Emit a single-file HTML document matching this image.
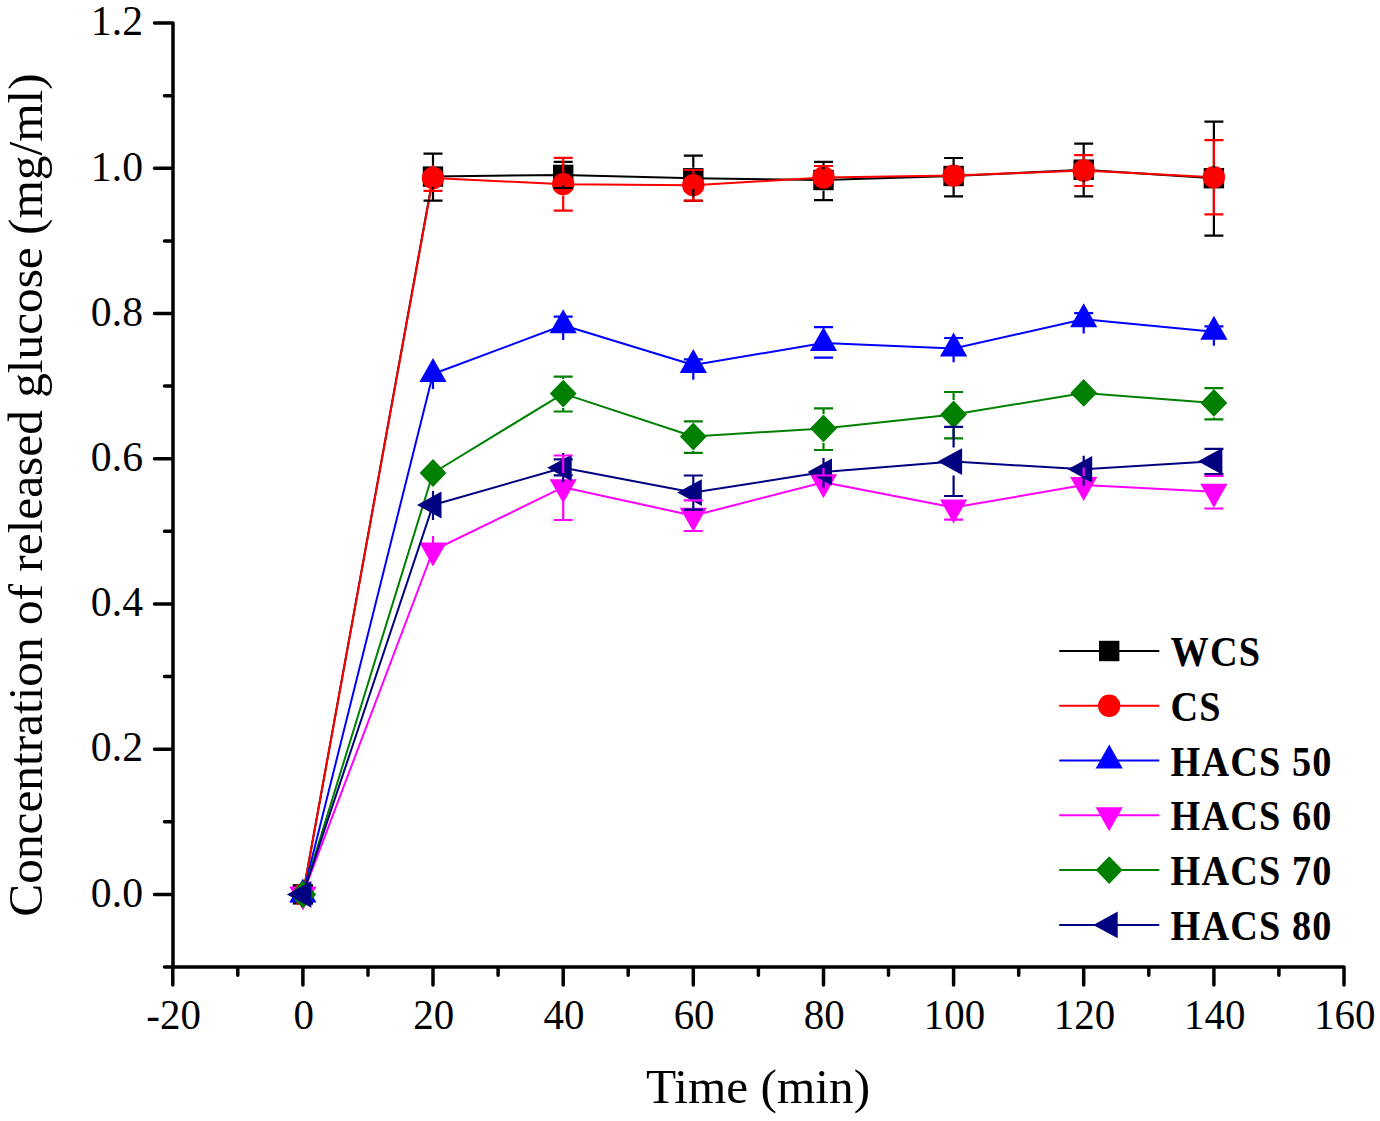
<!DOCTYPE html><html><head><meta charset="utf-8"><title>Glucose release</title><style>html,body{margin:0;padding:0;background:#fff;}svg{display:block;}text{font-family:"Liberation Serif",serif;}</style></head><body>
<svg width="1380" height="1121" viewBox="0 0 1380 1121">
<rect width="1380" height="1121" fill="#fff"/>
<path d="M173.0,23.1 L173.0,967.0 M164.5,967.0 L1344.0,967.0 M154.5,894.4 L173.0,894.4 M154.5,749.2 L173.0,749.2 M154.5,604.0 L173.0,604.0 M154.5,458.7 L173.0,458.7 M154.5,313.5 L173.0,313.5 M154.5,168.3 L173.0,168.3 M154.5,23.1 L173.0,23.1 M164.5,821.8 L173.0,821.8 M164.5,676.6 L173.0,676.6 M164.5,531.3 L173.0,531.3 M164.5,386.1 L173.0,386.1 M164.5,240.9 L173.0,240.9 M164.5,95.7 L173.0,95.7 M172.8,967.0 L172.8,985.0 M302.9,967.0 L302.9,985.0 M433.0,967.0 L433.0,985.0 M563.2,967.0 L563.2,985.0 M693.3,967.0 L693.3,985.0 M823.5,967.0 L823.5,985.0 M953.6,967.0 L953.6,985.0 M1083.7,967.0 L1083.7,985.0 M1213.9,967.0 L1213.9,985.0 M1344.0,967.0 L1344.0,985.0 M237.8,967.0 L237.8,975.3 M368.0,967.0 L368.0,975.3 M498.1,967.0 L498.1,975.3 M628.2,967.0 L628.2,975.3 M758.4,967.0 L758.4,975.3 M888.5,967.0 L888.5,975.3 M1018.7,967.0 L1018.7,975.3 M1148.8,967.0 L1148.8,975.3 M1278.9,967.0 L1278.9,975.3" stroke="#000" stroke-width="3.5" fill="none" stroke-linecap="round" stroke-linejoin="round"/>
<text transform="translate(143,906.6) scale(1.03,1.05)" font-size="40.5" text-anchor="end">0.0</text>
<text transform="translate(143,761.4) scale(1.03,1.05)" font-size="40.5" text-anchor="end">0.2</text>
<text transform="translate(143,616.2) scale(1.03,1.05)" font-size="40.5" text-anchor="end">0.4</text>
<text transform="translate(143,470.9) scale(1.03,1.05)" font-size="40.5" text-anchor="end">0.6</text>
<text transform="translate(143,325.7) scale(1.03,1.05)" font-size="40.5" text-anchor="end">0.8</text>
<text transform="translate(143,180.5) scale(1.03,1.05)" font-size="40.5" text-anchor="end">1.0</text>
<text transform="translate(143,35.3) scale(1.03,1.05)" font-size="40.5" text-anchor="end">1.2</text>
<text transform="translate(173.6,1028.8) scale(1.01,1.05)" font-size="40.5" text-anchor="middle">-20</text>
<text transform="translate(303.7,1028.8) scale(1.01,1.05)" font-size="40.5" text-anchor="middle">0</text>
<text transform="translate(433.8,1028.8) scale(1.01,1.05)" font-size="40.5" text-anchor="middle">20</text>
<text transform="translate(564.0,1028.8) scale(1.01,1.05)" font-size="40.5" text-anchor="middle">40</text>
<text transform="translate(694.1,1028.8) scale(1.01,1.05)" font-size="40.5" text-anchor="middle">60</text>
<text transform="translate(824.3,1028.8) scale(1.01,1.05)" font-size="40.5" text-anchor="middle">80</text>
<text transform="translate(954.4,1028.8) scale(1.01,1.05)" font-size="40.5" text-anchor="middle">100</text>
<text transform="translate(1084.5,1028.8) scale(1.01,1.05)" font-size="40.5" text-anchor="middle">120</text>
<text transform="translate(1214.7,1028.8) scale(1.01,1.05)" font-size="40.5" text-anchor="middle">140</text>
<text transform="translate(1344.8,1028.8) scale(1.01,1.05)" font-size="40.5" text-anchor="middle">160</text>
<text x="758" y="1102.7" font-size="49.3" text-anchor="middle">Time (min)</text>
<text transform="translate(42.3,495) rotate(-90)" font-size="49.3" text-anchor="middle">Concentration of released glucose (mg/ml)</text>
<polyline points="302.9,894.4 433.0,176.6 563.2,174.9 693.3,178.3 823.5,180.0 953.6,176.0 1083.7,169.7 1213.9,178.2" stroke="#000000" stroke-width="2.0" fill="none" stroke-linejoin="round"/>
<rect x="292.7" y="884.2" width="20.4" height="20.4" fill="#000000"/>
<rect x="422.8" y="166.4" width="20.4" height="20.4" fill="#000000"/>
<rect x="553.0" y="164.7" width="20.4" height="20.4" fill="#000000"/>
<rect x="683.1" y="168.1" width="20.4" height="20.4" fill="#000000"/>
<rect x="813.3" y="169.8" width="20.4" height="20.4" fill="#000000"/>
<rect x="943.4" y="165.8" width="20.4" height="20.4" fill="#000000"/>
<rect x="1073.5" y="159.5" width="20.4" height="20.4" fill="#000000"/>
<rect x="1203.7" y="168.0" width="20.4" height="20.4" fill="#000000"/>
<polyline points="302.9,894.4 433.0,178.0 563.2,184.2 693.3,185.2 823.5,177.5 953.6,175.6 1083.7,170.5 1213.9,177.2" stroke="#FF0000" stroke-width="2.0" fill="none" stroke-linejoin="round"/>
<circle cx="302.9" cy="894.4" r="11.2" fill="#FF0000"/>
<circle cx="433.0" cy="178.0" r="11.2" fill="#FF0000"/>
<circle cx="563.2" cy="184.2" r="11.2" fill="#FF0000"/>
<circle cx="693.3" cy="185.2" r="11.2" fill="#FF0000"/>
<circle cx="823.5" cy="177.5" r="11.2" fill="#FF0000"/>
<circle cx="953.6" cy="175.6" r="11.2" fill="#FF0000"/>
<circle cx="1083.7" cy="170.5" r="11.2" fill="#FF0000"/>
<circle cx="1213.9" cy="177.2" r="11.2" fill="#FF0000"/>
<polyline points="302.9,894.4 433.0,374.0 563.2,325.3 693.3,365.0 823.5,343.0 953.6,348.4 1083.7,319.3 1213.9,331.7" stroke="#0000FF" stroke-width="2.0" fill="none" stroke-linejoin="round"/>
<polygon points="302.9,878.4 316.5,902.4 289.3,902.4" fill="#0000FF"/>
<polygon points="433.0,358.0 446.6,382.0 419.4,382.0" fill="#0000FF"/>
<polygon points="563.2,309.3 576.8,333.3 549.6,333.3" fill="#0000FF"/>
<polygon points="693.3,349.0 706.9,373.0 679.7,373.0" fill="#0000FF"/>
<polygon points="823.5,327.0 837.1,351.0 809.9,351.0" fill="#0000FF"/>
<polygon points="953.6,332.4 967.2,356.4 940.0,356.4" fill="#0000FF"/>
<polygon points="1083.7,303.3 1097.3,327.3 1070.1,327.3" fill="#0000FF"/>
<polygon points="1213.9,315.7 1227.5,339.7 1200.3,339.7" fill="#0000FF"/>
<polyline points="302.9,894.4 433.0,550.5 563.2,487.2 693.3,515.7 823.5,482.3 953.6,507.6 1083.7,485.0 1213.9,491.8" stroke="#FF00FF" stroke-width="2.0" fill="none" stroke-linejoin="round"/>
<polygon points="302.9,910.4 316.5,886.4 289.3,886.4" fill="#FF00FF"/>
<polygon points="433.0,566.5 446.6,542.5 419.4,542.5" fill="#FF00FF"/>
<polygon points="563.2,503.2 576.8,479.2 549.6,479.2" fill="#FF00FF"/>
<polygon points="693.3,531.7 706.9,507.7 679.7,507.7" fill="#FF00FF"/>
<polygon points="823.5,498.3 837.1,474.3 809.9,474.3" fill="#FF00FF"/>
<polygon points="953.6,523.6 967.2,499.6 940.0,499.6" fill="#FF00FF"/>
<polygon points="1083.7,501.0 1097.3,477.0 1070.1,477.0" fill="#FF00FF"/>
<polygon points="1213.9,507.8 1227.5,483.8 1200.3,483.8" fill="#FF00FF"/>
<polyline points="302.9,894.4 433.0,473.0 563.2,393.6 693.3,436.5 823.5,428.4 953.6,414.5 1083.7,392.9 1213.9,402.9" stroke="#008000" stroke-width="2.0" fill="none" stroke-linejoin="round"/>
<polygon points="302.9,880.5 316.3,894.4 302.9,908.3 289.5,894.4" fill="#008000"/>
<polygon points="433.0,459.1 446.4,473.0 433.0,486.9 419.6,473.0" fill="#008000"/>
<polygon points="563.2,379.7 576.6,393.6 563.2,407.5 549.8,393.6" fill="#008000"/>
<polygon points="693.3,422.6 706.7,436.5 693.3,450.4 679.9,436.5" fill="#008000"/>
<polygon points="823.5,414.5 836.9,428.4 823.5,442.3 810.1,428.4" fill="#008000"/>
<polygon points="953.6,400.6 967.0,414.5 953.6,428.4 940.2,414.5" fill="#008000"/>
<polygon points="1083.7,379.0 1097.1,392.9 1083.7,406.8 1070.3,392.9" fill="#008000"/>
<polygon points="1213.9,389.0 1227.3,402.9 1213.9,416.8 1200.5,402.9" fill="#008000"/>
<polyline points="302.9,894.4 433.0,505.0 563.2,467.8 693.3,492.6 823.5,472.0 953.6,461.6 1083.7,469.3 1213.9,461.3" stroke="#000080" stroke-width="2.0" fill="none" stroke-linejoin="round"/>
<polygon points="286.9,894.4 311.4,881.0 311.4,907.8" fill="#000080"/>
<polygon points="417.0,505.0 441.5,491.6 441.5,518.4" fill="#000080"/>
<polygon points="547.2,467.8 571.7,454.4 571.7,481.2" fill="#000080"/>
<polygon points="677.3,492.6 701.8,479.2 701.8,506.0" fill="#000080"/>
<polygon points="807.5,472.0 832.0,458.6 832.0,485.4" fill="#000080"/>
<polygon points="937.6,461.6 962.1,448.2 962.1,475.0" fill="#000080"/>
<polygon points="1067.7,469.3 1092.2,455.9 1092.2,482.7" fill="#000080"/>
<polygon points="1197.9,461.3 1222.4,447.9 1222.4,474.7" fill="#000080"/>
<path d="M433.0,153.7 L433.0,166.1 M433.0,187.1 L433.0,200.7 M423.5,153.7 L442.5,153.7 M423.5,200.7 L442.5,200.7 M563.2,161.8 L563.2,164.4 M563.2,185.4 L563.2,188.0 M553.7,161.8 L572.7,161.8 M553.7,188.0 L572.7,188.0 M693.3,155.7 L693.3,167.8 M693.3,188.8 L693.3,200.9 M683.8,155.7 L702.8,155.7 M683.8,200.9 L702.8,200.9 M823.5,161.9 L823.5,169.5 M823.5,190.5 L823.5,200.2 M814.0,161.9 L833.0,161.9 M814.0,200.2 L833.0,200.2 M953.6,158.0 L953.6,165.5 M953.6,186.5 L953.6,196.3 M944.1,158.0 L963.1,158.0 M944.1,196.3 L963.1,196.3 M1083.7,143.6 L1083.7,159.2 M1083.7,180.2 L1083.7,196.3 M1074.2,143.6 L1093.2,143.6 M1074.2,196.3 L1093.2,196.3 M1213.9,121.6 L1213.9,167.7 M1213.9,188.7 L1213.9,235.7 M1204.4,121.6 L1223.4,121.6 M1204.4,235.7 L1223.4,235.7" stroke="#000000" stroke-width="2.2" fill="none"/>
<path d="M433.0,165.2 L433.0,166.5 M433.0,189.5 L433.0,190.8 M423.5,190.8 L442.5,190.8 M563.2,157.8 L563.2,172.7 M563.2,195.7 L563.2,210.7 M553.7,157.8 L572.7,157.8 M553.7,210.7 L572.7,210.7 M693.3,170.0 L693.3,173.7 M693.3,196.7 L693.3,200.7 M683.8,170.0 L702.8,170.0 M683.8,200.7 L702.8,200.7 M814.0,166.0 L833.0,166.0 M1083.7,155.2 L1083.7,159.0 M1083.7,182.0 L1083.7,186.0 M1074.2,155.2 L1093.2,155.2 M1074.2,186.0 L1093.2,186.0 M1213.9,140.1 L1213.9,165.7 M1213.9,188.7 L1213.9,214.3 M1204.4,140.1 L1223.4,140.1 M1204.4,214.3 L1223.4,214.3" stroke="#FF0000" stroke-width="2.2" fill="none"/>
<path d="M433.0,374.0 L433.0,389.0 M563.2,316.7 L563.2,339.9 M553.7,316.7 L572.7,316.7 M693.3,359.3 L693.3,379.8 M683.8,359.3 L702.8,359.3 M814.0,327.1 L833.0,327.1 M814.0,357.7 L833.0,357.7 M953.6,338.0 L953.6,362.3 M944.1,338.0 L963.1,338.0 M1083.7,313.2 L1083.7,333.6 M1074.2,313.2 L1093.2,313.2 M1213.9,326.4 L1213.9,345.7 M1204.4,326.4 L1223.4,326.4" stroke="#0000FF" stroke-width="2.2" fill="none"/>
<path d="M563.2,376.7 L563.2,379.1 M563.2,408.1 L563.2,411.5 M553.7,376.7 L572.7,376.7 M553.7,411.5 L572.7,411.5 M693.3,421.4 L693.3,422.0 M693.3,451.0 L693.3,452.8 M683.8,421.4 L702.8,421.4 M683.8,452.8 L702.8,452.8 M823.5,408.3 L823.5,413.9 M823.5,442.9 L823.5,450.0 M814.0,408.3 L833.0,408.3 M814.0,450.0 L833.0,450.0 M953.6,392.0 L953.6,400.0 M953.6,429.0 L953.6,438.4 M944.1,392.0 L963.1,392.0 M944.1,438.4 L963.1,438.4 M1213.9,388.1 L1213.9,388.4 M1213.9,417.4 L1213.9,419.4 M1204.4,388.1 L1223.4,388.1 M1204.4,419.4 L1223.4,419.4" stroke="#008000" stroke-width="2.2" fill="none"/>
<path d="M433.0,491.0 L433.0,520.0 M563.2,452.9 L563.2,482.2 M553.7,459.3 L572.7,459.3 M553.7,475.3 L572.7,475.3 M693.3,475.5 L693.3,509.6 M683.8,475.5 L702.8,475.5 M683.8,509.6 L702.8,509.6 M823.5,458.1 L823.5,487.4 M953.6,426.8 L953.6,447.6 M953.6,475.6 L953.6,496.0 M944.1,426.8 L963.1,426.8 M944.1,496.0 L963.1,496.0 M1083.7,455.8 L1083.7,485.4 M1204.4,448.9 L1223.4,448.9 M1204.4,474.2 L1223.4,474.2" stroke="#000080" stroke-width="2.2" fill="none"/>
<path d="M433.0,536.0 L433.0,545.0 M563.2,455.5 L563.2,473.2 M563.2,501.2 L563.2,520.0 M553.7,455.5 L572.7,455.5 M553.7,520.0 L572.7,520.0 M693.3,500.3 L693.3,501.7 M693.3,529.7 L693.3,531.0 M683.8,500.3 L702.8,500.3 M683.8,531.0 L702.8,531.0 M823.5,468.0 L823.5,476.0 M814.0,475.5 L833.0,475.5 M944.1,519.6 L963.1,519.6 M1083.7,467.5 L1083.7,476.0 M1204.4,475.9 L1223.4,475.9 M1204.4,508.5 L1223.4,508.5" stroke="#FF00FF" stroke-width="2.2" fill="none"/>
<line x1="1059.2" y1="651.0" x2="1159.3" y2="651.0" stroke="#000000" stroke-width="2"/>
<rect x="1099.0" y="640.8" width="20.4" height="20.4" fill="#000000"/>
<text transform="translate(1170.6,666.0) scale(0.92,1)" font-size="41.6" font-weight="bold" letter-spacing="1.2">WCS</text>
<line x1="1059.2" y1="705.78" x2="1159.3" y2="705.78" stroke="#FF0000" stroke-width="2"/>
<circle cx="1109.2" cy="705.8" r="11.2" fill="#FF0000"/>
<text transform="translate(1170.6,720.8) scale(0.92,1)" font-size="41.6" font-weight="bold" letter-spacing="1.2">CS</text>
<line x1="1059.2" y1="760.56" x2="1159.3" y2="760.56" stroke="#0000FF" stroke-width="2"/>
<polygon points="1109.2,744.6 1122.8,768.6 1095.6,768.6" fill="#0000FF"/>
<text transform="translate(1170.6,775.6) scale(0.92,1)" font-size="41.6" font-weight="bold" letter-spacing="1.2">HACS 50</text>
<line x1="1059.2" y1="815.34" x2="1159.3" y2="815.34" stroke="#FF00FF" stroke-width="2"/>
<polygon points="1109.2,831.3 1122.8,807.3 1095.6,807.3" fill="#FF00FF"/>
<text transform="translate(1170.6,830.3) scale(0.92,1)" font-size="41.6" font-weight="bold" letter-spacing="1.2">HACS 60</text>
<line x1="1059.2" y1="870.12" x2="1159.3" y2="870.12" stroke="#008000" stroke-width="2"/>
<polygon points="1109.2,856.2 1122.6,870.1 1109.2,884.0 1095.8,870.1" fill="#008000"/>
<text transform="translate(1170.6,885.1) scale(0.92,1)" font-size="41.6" font-weight="bold" letter-spacing="1.2">HACS 70</text>
<line x1="1059.2" y1="924.9" x2="1159.3" y2="924.9" stroke="#000080" stroke-width="2"/>
<polygon points="1093.2,924.9 1117.7,911.5 1117.7,938.3" fill="#000080"/>
<text transform="translate(1170.6,939.9) scale(0.92,1)" font-size="41.6" font-weight="bold" letter-spacing="1.2">HACS 80</text>
</svg></body></html>
